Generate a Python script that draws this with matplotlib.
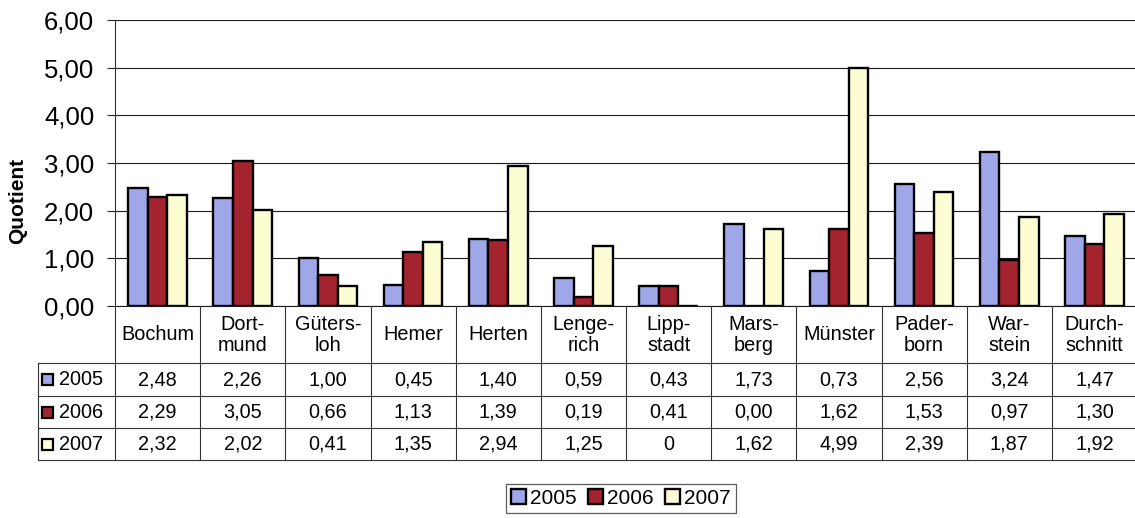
import matplotlib
matplotlib.use("Agg")
import matplotlib.pyplot as plt
import numpy as np
from matplotlib.patches import Rectangle

plt.rcParams["font.family"] = ["Liberation Sans", "DejaVu Sans"]

# quotient per clinic and year
categories = ["Bochum", "Dort-\nmund", "Güters-\nloh", "Hemer", "Herten",
              "Lenge-\nrich", "Lipp-\nstadt", "Mars-\nberg", "Münster",
              "Pader-\nborn", "War-\nstein", "Durch-\nschnitt"]
years = ["2005", "2006", "2007"]
q2005 = [2.48, 2.26, 1.00, 0.45, 1.40, 0.59, 0.43, 1.73, 0.73, 2.56, 3.24, 1.47]
q2006 = [2.29, 3.05, 0.66, 1.13, 1.39, 0.19, 0.41, 0.00, 1.62, 1.53, 0.97, 1.30]
q2007 = [2.32, 2.02, 0.41, 1.35, 2.94, 1.25, 0.00, 1.62, 4.99, 2.39, 1.87, 1.92]
# cells shown as a bare integer in the data table (row, column)
plain_cells = {(2, 6)}

colors = ["#a0a7e8", "#a3232e", "#fdfdd3"]
series = [q2005, q2006, q2007]

W, H = 1135, 518
fig = plt.figure(figsize=(W / 100, H / 100), dpi=100)


def px_box(x0, y0, x1, y1):
    return [x0 / W, 1 - y1 / H, (x1 - x0) / W, (y1 - y0) / H]


ax = fig.add_axes(px_box(115, 20, 1137, 306))
x = np.arange(len(categories))
bw = 0.23
for i, (vals, c) in enumerate(zip(series, colors)):
    ax.bar(x + (i - 1) * bw, vals, bw, color=c, edgecolor="black",
           linewidth=1.7, label=years[i], zorder=3)

ax.set_xlim(-0.5, len(categories) - 0.5)
ax.set_ylim(0, 6)
ax.set_yticks(np.arange(0, 7, 1))
ax.set_yticklabels([f"{v:.2f}".replace(".", ",") for v in np.arange(0, 7, 1)],
                   fontsize=18.5)
ax.tick_params(axis="y", length=6, width=0.8, pad=9, color="#222222")
ax.set_xticks([])
ax.grid(axis="y", color="#1a1a1a", linewidth=0.8, zorder=0)
for s in ["top", "right"]:
    ax.spines[s].set_visible(False)
ax.spines["left"].set_color("#333333")
ax.spines["bottom"].set_color("#1a1a1a")
ax.spines["left"].set_linewidth(0.8)

fig.text(18 / W, 1 - 201 / H, "Quotient", rotation=90, fontsize=15,
         fontweight="bold", ha="center", va="center")

# data table under the bars, in pixel-like units
tab = fig.add_axes(px_box(38, 306, 1137, 460))
left_units = (115 - 38) / ((1137 - 115) / len(categories))
tab.set_xlim(-0.5 - left_units, len(categories) - 0.5)
tab.set_ylim(154, 0)
tab.axis("off")

row_edges = [0, 57, 90, 122, 154]
lc = "#333333"
lw = 0.8
for xe in np.arange(len(categories) + 1) - 0.5:
    tab.plot([xe, xe], [0, 154], color=lc, lw=lw, clip_on=False)
x_left = -0.5 - left_units
tab.plot([x_left, x_left], [57, 154], color=lc, lw=lw, clip_on=False)
for ye in row_edges[1:]:
    tab.plot([x_left, len(categories) - 0.5], [ye, ye], color=lc, lw=lw,
             clip_on=False)

tfs = 14.3
for j, name in enumerate(categories):
    tab.text(j, 29, name, ha="center", va="center", fontsize=tfs,
             linespacing=1.12)

for r, (vals, c) in enumerate(zip(series, colors)):
    yc = (row_edges[r + 1] + row_edges[r + 2]) / 2
    for j, v in enumerate(vals):
        s = f"{v:.0f}" if (r, j) in plain_cells else f"{v:.2f}".replace(".", ",")
        tab.text(j, yc, s, ha="center", va="center", fontsize=tfs)
    sq = 11 / 85.17
    tab.add_patch(Rectangle((x_left + 4 / 85.17, yc - 5.5), sq, 11,
                            facecolor=c, edgecolor="black", lw=1.6,
                            clip_on=False))
    tab.text(x_left + 21 / 85.17, yc, years[r], ha="left", va="center",
             fontsize=tfs)

leg = fig.legend(loc="center", bbox_to_anchor=(621 / W, 1 - 498.5 / H),
                 ncol=3, fontsize=15, frameon=True, fancybox=False,
                 handlelength=0.7, handleheight=0.7, handletextpad=0.2,
                 columnspacing=0.55, borderpad=0.25, borderaxespad=0)
leg.get_frame().set_edgecolor("#333333")
leg.get_frame().set_linewidth(0.9)

fig.savefig("out.png", dpi=100)
